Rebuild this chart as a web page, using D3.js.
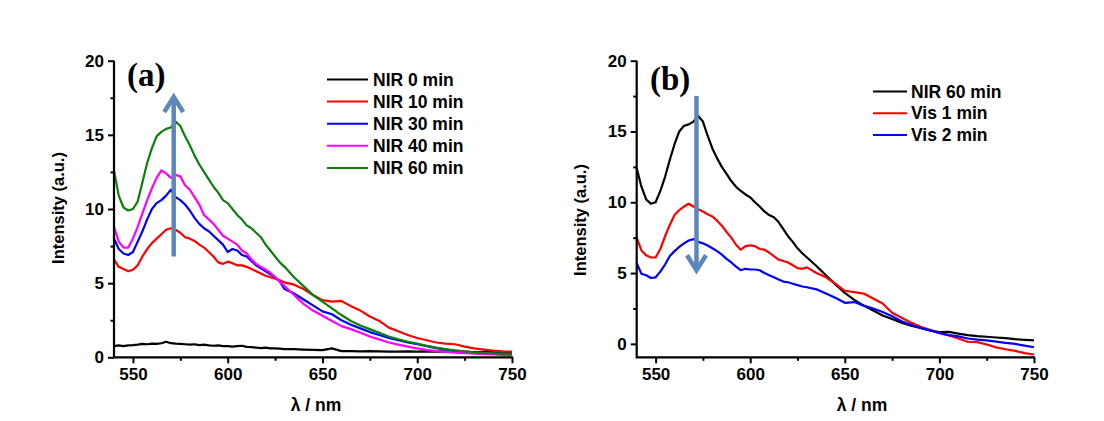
<!DOCTYPE html>
<html><head><meta charset="utf-8">
<script src="https://cdn.jsdelivr.net/npm/d3@7/dist/d3.min.js"></script>
<style>
html,body{margin:0;padding:0;background:#fff;}
svg{display:block;}
text{font-family:"Liberation Sans",Arial,sans-serif;font-weight:bold;fill:#000;}
</style></head><body>
<svg id="chart" width="1104" height="421"></svg>
<script>
// wavelengths (nm)
const wavelength = [540,542.5,545,547.5,550,552.5,555,557.5,560,562.5,565,567.5,570,572.5,575,577.5,580,582.5,585,587.5,590,592.5,595,597.5,600,602.5,605,607.5,610,612.5,615,617.5,620,622.5,625,627.5,630,635,640,645,650,655,660,665,670,675,680,685,690,695,700,705,710,715,720,725,730,735,740,745,750];

// Panel (a)
const nir0 = [0.75,0.8,0.75,0.8,0.82,0.85,0.9,0.88,0.92,0.9,0.95,1.05,0.95,0.92,0.9,0.88,0.85,0.88,0.82,0.85,0.8,0.78,0.8,0.75,0.75,0.72,0.75,0.78,0.7,0.68,0.65,0.62,0.65,0.6,0.6,0.58,0.55,0.55,0.52,0.5,0.48,0.6,0.42,0.42,0.4,0.42,0.4,0.38,0.38,0.4,0.38,0.4,0.38,0.38,0.36,0.36,0.35,0.35,0.35,0.34,0.33];
const nir10 = [6.6,6.1,5.95,5.8,5.9,6.2,6.8,7.3,7.7,8.0,8.3,8.6,8.7,8.6,8.4,8.1,8.0,7.85,7.6,7.4,7.1,6.8,6.4,6.3,6.45,6.35,6.2,6.2,6.1,5.95,5.8,5.65,5.5,5.4,5.3,5.2,5.05,4.9,4.6,4.2,3.85,3.75,3.8,3.45,3.15,2.75,2.45,2.0,1.75,1.5,1.3,1.15,1.0,0.92,0.88,0.72,0.6,0.52,0.45,0.4,0.38];
const nir30 = [8.0,7.3,7.0,6.9,7.1,7.8,8.5,9.3,10.0,10.4,10.6,10.9,11.3,10.8,10.6,10.3,9.9,9.4,9.0,8.7,8.5,8.2,7.9,7.6,7.1,7.3,7.2,6.9,6.8,6.5,6.2,6.0,5.8,5.6,5.4,5.1,4.6,4.3,3.9,3.5,3.1,2.9,2.5,2.2,1.95,1.7,1.5,1.3,1.15,1.0,0.88,0.75,0.62,0.52,0.45,0.38,0.33,0.3,0.27,0.24,0.22];
const nir40 = [8.8,7.8,7.4,7.4,8.0,8.8,9.7,10.6,11.4,12.1,12.6,12.4,12.1,12.3,12.2,11.6,11.3,10.8,10.3,9.6,9.3,9.0,8.6,8.2,8.0,7.8,7.6,7.2,7.0,6.6,6.3,6.1,5.9,5.7,5.4,5.1,4.8,4.2,3.6,3.15,2.8,2.45,2.1,1.9,1.65,1.4,1.2,1.0,0.85,0.72,0.6,0.5,0.42,0.36,0.32,0.28,0.25,0.22,0.2,0.17,0.15];
const nir60 = [12.6,10.9,10.1,9.9,10.0,10.5,11.8,13.1,14.1,14.9,15.2,15.4,15.5,15.9,15.6,14.9,14.3,13.6,13.0,12.5,12.0,11.5,11.1,10.6,10.4,10.0,9.6,9.3,8.9,8.7,8.4,8.1,7.6,7.2,6.8,6.4,6.1,5.4,4.8,4.2,3.75,3.3,2.85,2.45,2.15,1.9,1.65,1.4,1.22,1.05,0.92,0.78,0.65,0.55,0.45,0.4,0.33,0.3,0.27,0.25,0.22];

// Panel (b)
const bNir60 = [12.4,11.1,10.2,9.9,10.0,10.8,11.8,13.0,14.1,15.0,15.4,15.5,15.7,16.1,15.7,14.7,13.8,13.1,12.5,12.0,11.5,11.1,10.8,10.55,10.35,10.0,9.7,9.35,9.1,8.95,8.6,8.1,7.6,7.2,6.75,6.4,6.1,5.5,4.85,4.2,3.6,3.1,2.7,2.35,2.0,1.75,1.5,1.28,1.12,0.95,0.83,0.85,0.72,0.62,0.55,0.5,0.45,0.4,0.33,0.28,0.24];
const vis1 = [7.5,6.6,6.25,6.1,6.1,6.7,7.6,8.4,9.1,9.45,9.7,9.9,9.7,9.5,9.35,9.15,9.0,8.7,8.35,7.9,7.5,7.0,6.65,6.9,6.95,6.9,6.7,6.65,6.45,6.2,5.95,5.85,5.75,5.55,5.35,5.3,5.4,5.0,4.7,4.25,3.75,3.65,3.55,3.2,2.85,2.2,1.85,1.5,1.2,1.0,0.75,0.6,0.38,0.15,0.12,-0.05,-0.25,-0.38,-0.5,-0.66,-0.75];
const vis2 = [5.7,4.95,4.85,4.65,4.7,5.1,5.6,6.2,6.55,6.85,7.1,7.3,7.4,7.2,7.1,6.95,6.75,6.55,6.3,6.0,5.75,5.45,5.2,5.3,5.25,5.25,5.2,5.0,4.85,4.7,4.55,4.4,4.35,4.25,4.15,4.05,4.0,3.85,3.55,3.25,2.9,2.95,2.7,2.5,2.25,1.95,1.6,1.35,1.12,0.95,0.77,0.62,0.53,0.38,0.3,0.25,0.16,0.07,0.0,-0.12,-0.24];

const xMajorTicks = [550,600,650,700,750];
const xMinorTicks = [575,625,675,725];
const yMajorTicks = [0,5,10,15,20];
const yMinorTicks = [2.5,7.5,12.5,17.5];

const seriesA = [
  {name:"NIR 0 min", values:nir0, color:"#000000"},
  {name:"NIR 10 min", values:nir10, color:"#ff0000"},
  {name:"NIR 30 min", values:nir30, color:"#0000ff"},
  {name:"NIR 40 min", values:nir40, color:"#ff00ff"},
  {name:"NIR 60 min", values:nir60, color:"#0a800a"}
];
const seriesB = [
  {name:"NIR 60 min", values:bNir60, color:"#000000"},
  {name:"Vis 1 min", values:vis1, color:"#ff0000"},
  {name:"Vis 2 min", values:vis2, color:"#0000ff"}
];

const svg = d3.select("#chart");
const arrowColor = "#5b87bd";

function panel(cfg){
  const x = d3.scaleLinear().domain([540,750]).range(cfg.xr);
  const y = d3.scaleLinear().domain(cfg.yd).range([357.3,60.7]);
  const g = svg.append("g");

  const line = d3.line().x((d,i)=>x(wavelength[i])).y(d=>y(d));
  cfg.series.forEach(s=>{
    g.append("path").datum(s.values).attr("d",line)
      .attr("fill","none").attr("stroke",s.color).attr("stroke-width",2.2)
      .attr("stroke-linejoin","round");
  });

  // axes
  const xb = g.append("g").attr("transform",`translate(0,${y.range()[0]})`);
  xb.call(d3.axisBottom(x).tickValues(xMajorTicks).tickSize(6).tickSizeOuter(0).tickPadding(5).tickFormat(d3.format("d")));
  const xm = g.append("g").attr("transform",`translate(0,${y.range()[0]})`);
  xm.call(d3.axisBottom(x).tickValues(xMinorTicks).tickSize(3.5).tickSizeOuter(0).tickFormat(""));
  const yl = g.append("g").attr("transform",`translate(${cfg.xr[0]},0)`);
  yl.call(d3.axisLeft(y).tickValues(yMajorTicks).tickSize(6).tickSizeOuter(0).tickPadding(4).tickFormat(d3.format("d")));
  const ym = g.append("g").attr("transform",`translate(${cfg.xr[0]},0)`);
  ym.call(d3.axisLeft(y).tickValues(yMinorTicks).tickSize(3.5).tickSizeOuter(0).tickFormat(""));
  [xb,xm,yl,ym].forEach(a=>{
    a.select(".domain").remove();
    a.selectAll("line").attr("stroke","#000").attr("stroke-width",2);
    a.selectAll("text").attr("font-size",17).attr("font-weight","bold")
      .attr("font-family","'Liberation Sans',Arial,sans-serif").attr("fill","#000");
  });
  g.append("path")
    .attr("d",`M${cfg.xr[0]},${y.range()[1]}V${y.range()[0]}H${cfg.xr[1]+1}`)
    .attr("fill","none").attr("stroke","#000").attr("stroke-width",2.2);

  // axis titles
  g.append("text").attr("x",cfg.xTitleX).attr("y",411).attr("text-anchor","middle")
    .attr("font-size",17.5).text("λ / nm");
  g.append("text").attr("transform",`translate(${cfg.yTitleX},${cfg.yTitleY}) rotate(-90)`)
    .attr("text-anchor","middle").attr("dominant-baseline","central")
    .attr("font-size",16.5).text("Intensity (a.u.)");

  // panel label
  g.append("text").attr("x",cfg.labelX).attr("y",cfg.labelY)
    .style("font-family","'Liberation Serif','Times New Roman',serif")
    .attr("font-size",33).text(cfg.label);

  // arrow
  const ax = x(cfg.arrow.wl), y0 = y(cfg.arrow.from), y1 = y(cfg.arrow.to);
  const dir = y1 < y0 ? 1 : -1;
  g.append("line").attr("x1",ax).attr("x2",ax).attr("y1",y0).attr("y2",y1+dir*1.5)
    .attr("stroke",arrowColor).attr("stroke-width",4.5);
  g.append("path")
    .attr("d",`M${ax-9.5},${y1+dir*15}L${ax},${y1}L${ax+9.5},${y1+dir*15}`)
    .attr("fill","none").attr("stroke",arrowColor).attr("stroke-width",4.5)
    .attr("stroke-linejoin","miter");

  // legend
  cfg.series.forEach((s,i)=>{
    const ly = cfg.legend.y + i*cfg.legend.dy;
    g.append("line").attr("x1",cfg.legend.x1).attr("x2",cfg.legend.x2)
      .attr("y1",ly).attr("y2",ly).attr("stroke",s.color).attr("stroke-width",2);
    g.append("text").attr("x",cfg.legend.tx).attr("y",ly)
      .attr("dominant-baseline","central").attr("font-size",17.5).text(s.name);
  });
}

panel({xr:[114,512], yd:[0,20], series:seriesA, label:"(a)", labelX:127, labelY:86,
  xTitleX:316, yTitleX:58, yTitleY:208,
  arrow:{wl:571.5, from:6.8, to:17.55},
  legend:{x1:327, x2:368, tx:373, y:79.5, dy:22.1}});
panel({xr:[636.7,1034], yd:[-0.95,20], series:seriesB, label:"(b)", labelX:650, labelY:90,
  xTitleX:862, yTitleX:580, yTitleY:220,
  arrow:{wl:571.6, from:17.5, to:5.2},
  legend:{x1:873, x2:907, tx:911, y:91.5, dy:21.7}});
</script>
</body></html>
